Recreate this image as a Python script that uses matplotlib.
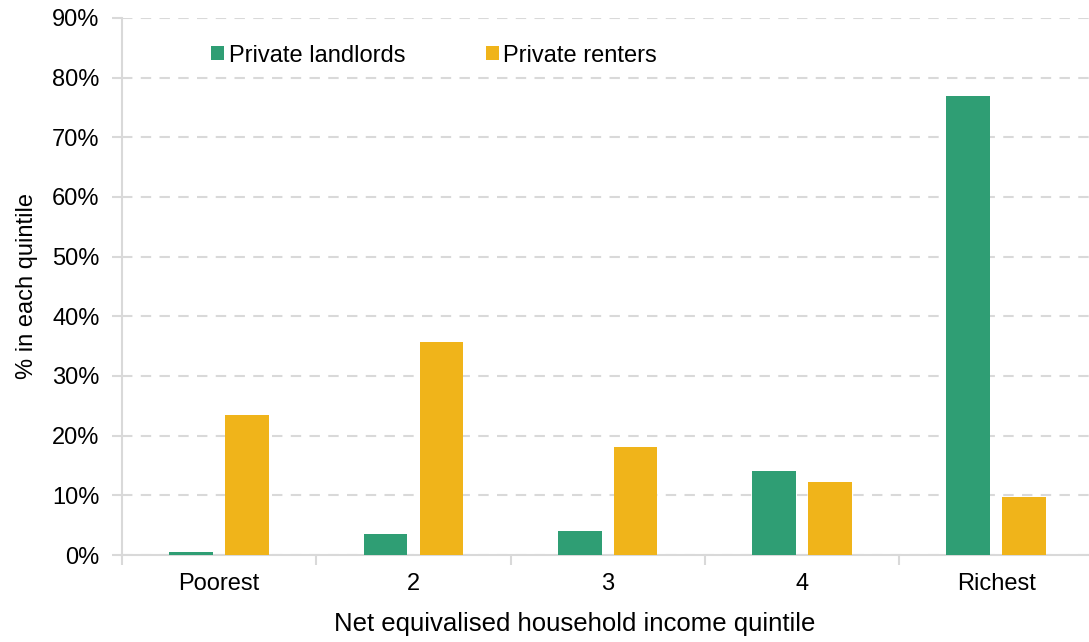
import matplotlib.pyplot as plt
import numpy as np

plt.rcParams['font.family'] = ['Liberation Sans', 'DejaVu Sans']

quintiles = ['Poorest', '2', '3', '4', 'Richest']
landlords = [0.55, 3.6, 4.0, 14.0, 77.0]
renters = [23.5, 35.7, 18.1, 12.2, 9.7]

green = '#2F9E74'
yellow = '#F0B41A'
grey = '#D9D9D9'

fig = plt.figure(figsize=(10.89, 6.42), dpi=100)
ax = fig.add_axes([0.112, 0.1355, 0.892, 0.8365])

x = np.arange(len(quintiles))
w = 0.225
ax.bar(x - 0.144, landlords, w, color=green, label='Private landlords', zorder=3)
ax.bar(x + 0.144, renters, w, color=yellow, label='Private renters', zorder=3)

ax.set_xlim(-0.5, 4.5)
ax.set_ylim(0, 90)
ax.set_yticks(range(0, 91, 10))
ax.set_yticklabels([f'{v}%' for v in range(0, 91, 10)], fontsize=17)
ax.set_xticks(x)
ax.set_xticklabels(quintiles, fontsize=17)
ax.set_xticks(np.arange(-0.5, 4.6, 1), minor=True)
ax.tick_params(axis='x', which='major', length=0, pad=13)
ax.tick_params(axis='x', which='minor', length=7, color=grey, width=1.5)
ax.tick_params(axis='y', length=7, color=grey, width=1.5, pad=9)

ax.grid(axis='y', color=grey, linestyle=(0, (5, 4)), linewidth=1.5, zorder=0)
for s in ['top', 'right']:
    ax.spines[s].set_visible(False)
ax.spines['left'].set_color(grey)
ax.spines['bottom'].set_color(grey)
ax.spines['left'].set_linewidth(1.5)
ax.spines['bottom'].set_linewidth(1.5)

ax.set_ylabel('% in each quintile', fontsize=17, labelpad=10)
ax.set_xlabel('Net equivalised household income quintile', fontsize=18.5, labelpad=12)
ax.xaxis.label.set_x(0.4665)

ax.legend(loc='upper left', bbox_to_anchor=(0.07, 0.99), ncol=2, frameon=False,
          fontsize=17, handlelength=0.55, handleheight=0.55, handletextpad=0.2,
          columnspacing=3.4)

fig.savefig('out.png', dpi=100)
